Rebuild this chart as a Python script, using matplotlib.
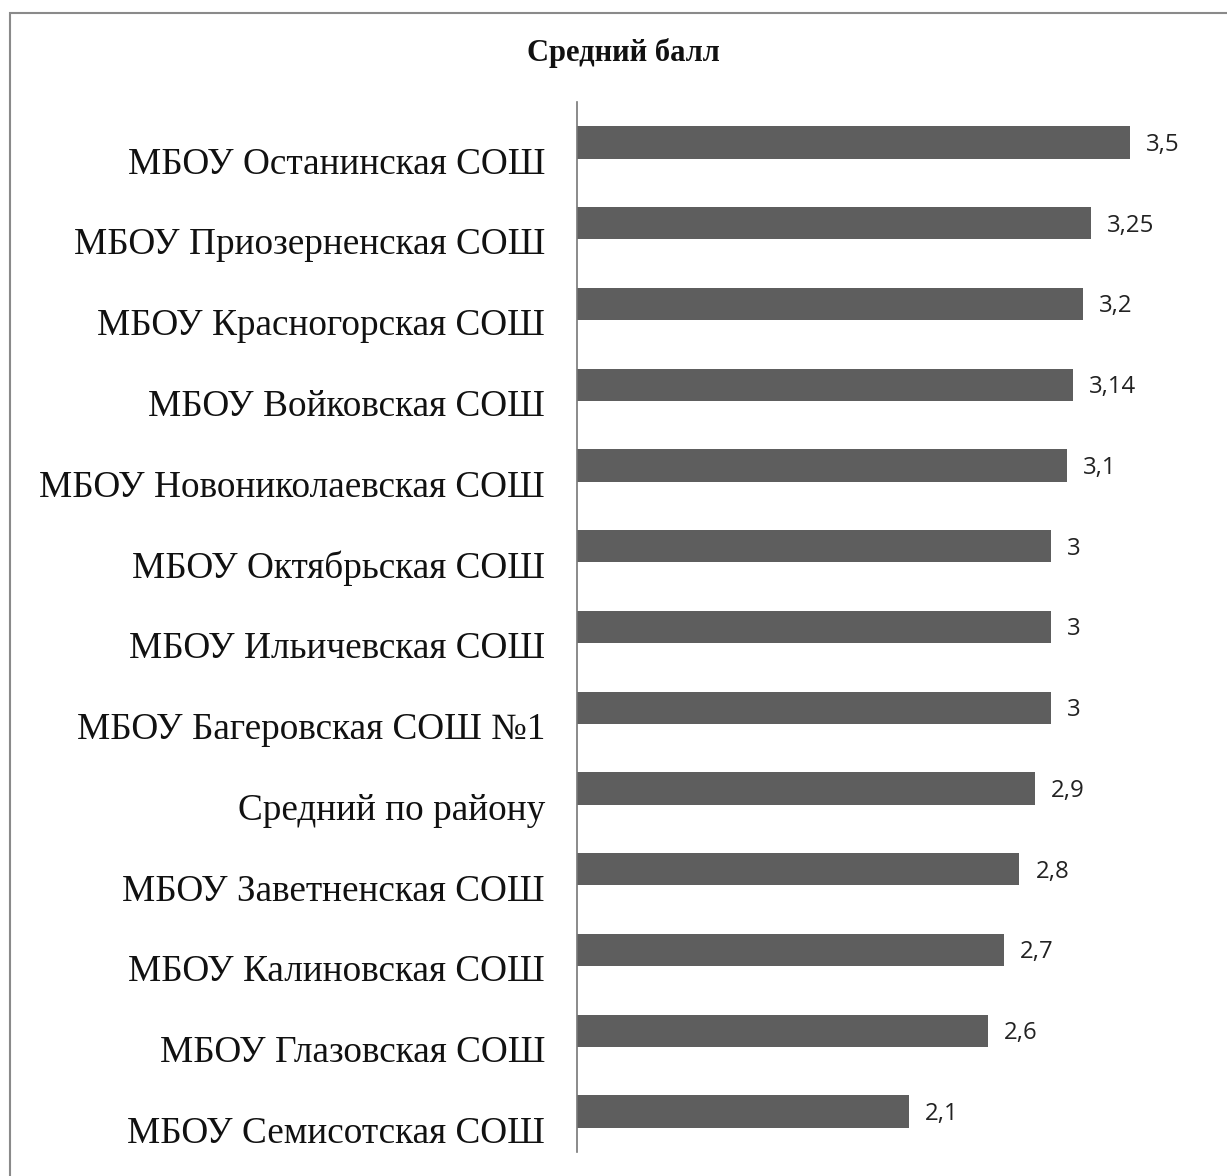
import matplotlib
matplotlib.use("Agg")
import matplotlib.pyplot as plt
import matplotlib.transforms as mtransforms
from matplotlib.patches import Rectangle

categories = [
    "МБОУ Останинская СОШ",
    "МБОУ Приозерненская СОШ",
    "МБОУ Красногорская СОШ",
    "МБОУ Войковская СОШ",
    "МБОУ Новониколаевская СОШ",
    "МБОУ Октябрьская СОШ",
    "МБОУ Ильичевская СОШ",
    "МБОУ Багеровская СОШ №1",
    "Средний по району",
    "МБОУ Заветненская СОШ",
    "МБОУ Калиновская СОШ",
    "МБОУ Глазовская СОШ",
    "МБОУ Семисотская СОШ",
]
values = [3.5, 3.25, 3.2, 3.14, 3.1, 3.0, 3.0, 3.0, 2.9, 2.8, 2.7, 2.6, 2.1]
value_labels = ["3,5", "3,25", "3,2", "3,14", "3,1", "3", "3", "3", "2,9", "2,8", "2,7", "2,6", "2,1"]
title = "Средний балл"

W, H = 1227, 1176
fig = plt.figure(figsize=(W / 100, H / 100), dpi=100)
fig.patch.set_facecolor("white")

# frame (left and top edges visible)
fig.add_artist(Rectangle((10 / W, -0.1), 1.2, (H - 13) / H + 0.1, transform=fig.transFigure,
                         fill=False, edgecolor="#8a8a8a", linewidth=1.5))

ax_left, ax_right = 577, 1227
ax_top, ax_bottom = 102, 1152
ax = fig.add_axes([ax_left / W, 1 - ax_bottom / H, (ax_right - ax_left) / W, (ax_bottom - ax_top) / H])

n = len(categories)
ypos = list(range(n))
ax.barh(ypos, values, height=0.4, color="#5e5e5e", edgecolor="none")
ax.set_ylim(n - 0.5, -0.5)
ax.set_xlim(0, (ax_right - ax_left) / 158.0)

for y, v, lab in zip(ypos, values, value_labels):
    ax.annotate(lab, (v, y + 0.03), xytext=(16, 0), textcoords="offset pixels",
                ha="left", va="center", fontsize=17.3, family="Open Sans", color="#222222")

ax.set_yticks(ypos)
ax.set_yticklabels(categories, family="Liberation Serif", fontsize=26.8, color="#111111")
ax.tick_params(axis="y", length=0, pad=23)
offset = mtransforms.ScaledTranslation(0, -18 / 100, fig.dpi_scale_trans)
for t in ax.get_yticklabels():
    t.set_transform(t.get_transform() + offset)

ax.set_xticks([])
for s in ["top", "right", "bottom"]:
    ax.spines[s].set_visible(False)
ax.spines["left"].set_color("#777777")
ax.spines["left"].set_linewidth(1.2)
ax.set_facecolor("none")

fig.text(623 / W, 1 - 53 / H, title, ha="center", va="center",
         family="Liberation Serif", fontweight="bold", fontsize=22, color="#111111")

fig.savefig("out.png", dpi=100, facecolor="white")
